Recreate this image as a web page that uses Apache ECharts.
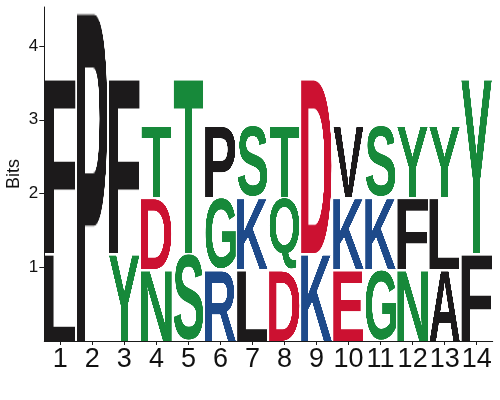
<!DOCTYPE html>
<html>
<head>
<meta charset="utf-8">
<script src="https://cdn.jsdelivr.net/npm/echarts@6/dist/echarts.min.js"></script>
<style>
html,body{margin:0;padding:0;background:#fff;}
#chart{width:500px;height:400px;}
</style>
</head>
<body>
<div id="chart"></div>
<script>
// Positions (x categories)
const positions = ['1','2','3','4','5','6','7','8','9','10','11','12','13','14'];
// Letters at each position, bottom to top
const letters = [
  ['L','F'], ['P'], ['Y','F'], ['N','D','T'], ['S','T'],
  ['R','G','P'], ['L','K','S'], ['D','Q','T'], ['K','D'],
  ['E','K','V'], ['G','K','S'], ['N','F','Y'], ['A','L','Y'], ['F','Y']
];
// Letter heights in bits, bottom to top
const heights = [
  [1.19, 2.40], [4.53], [1.19, 2.40], [0.97, 0.98, 0.98], [1.19, 2.40],
  [0.97, 0.98, 0.98], [0.97, 0.98, 0.98], [0.97, 0.98, 0.98], [1.19, 2.40],
  [0.97, 0.98, 0.98], [0.97, 0.98, 0.98], [0.97, 0.98, 0.98], [0.97, 0.98, 0.98], [1.19, 2.40]
];
const yTicks = [1, 2, 3, 4];
const yMax = 4.53;

const colorOf = {
  F:'#1c1a1b', P:'#1c1a1b', L:'#1c1a1b', V:'#1c1a1b', A:'#1c1a1b',
  Y:'#17893a', N:'#17893a', S:'#17893a', T:'#17893a', G:'#17893a', Q:'#17893a',
  D:'#cc1131', E:'#cc1131',
  K:'#1e4a8a', R:'#1e4a8a'
};

const glyphCache = {};
function glyph(ch) {
  if (glyphCache[ch]) return glyphCache[ch];
  const font = 'bold 300px "Liberation Sans", Arial, sans-serif';
  const c = document.createElement('canvas');
  let ctx = c.getContext('2d');
  ctx.font = font;
  const m = ctx.measureText(ch);
  const w = Math.ceil(m.actualBoundingBoxLeft + m.actualBoundingBoxRight);
  const h = Math.ceil(m.actualBoundingBoxAscent + m.actualBoundingBoxDescent);
  c.width = w; c.height = h;
  ctx = c.getContext('2d');
  ctx.font = font;
  ctx.fillStyle = colorOf[ch];
  ctx.textBaseline = 'alphabetic';
  ctx.textAlign = 'left';
  ctx.fillText(ch, m.actualBoundingBoxLeft, m.actualBoundingBoxAscent);
  glyphCache[ch] = c;
  return c;
}

// Build stacked items
const items = [];
letters.forEach((col, i) => {
  let base = 0;
  col.forEach((ch, j) => {
    const h = heights[i][j];
    items.push({ i: i, y0: base, y1: base + h, ch: ch });
    base += h;
  });
});

const FONT = '"Liberation Sans", Arial, sans-serif';
const chart = echarts.init(document.getElementById('chart'), null, { renderer: 'canvas' });
chart.setOption({
  animation: false,
  grid: { left: 44.3, right: 7.3, top: 7, bottom: 59, containLabel: false, outerBoundsMode: 'none' },
  xAxis: {
    type: 'category',
    data: positions,
    boundaryGap: true,
    axisLine: { show: true, lineStyle: { color: '#1a1a1a', width: 1 } },
    axisTick: { show: true, alignWithLabel: true, length: 4, lineStyle: { color: '#1a1a1a' } },
    axisLabel: { fontSize: 27, color: '#111', margin: 5, fontFamily: FONT, interval: 0, hideOverlap: false },
    splitLine: { show: false }
  },
  yAxis: {
    type: 'value',
    min: 0, max: yMax,
    name: 'Bits',
    nameLocation: 'middle',
    nameGap: 21,
    nameRotate: 90,
    nameMoveOverlap: false,
    nameTextStyle: { fontSize: 18, color: '#111', fontFamily: FONT },
    axisLine: { show: true, lineStyle: { color: '#1a1a1a', width: 1 } },
    axisTick: { show: true, length: 5, customValues: yTicks, lineStyle: { color: '#1a1a1a' } },
    axisLabel: { fontSize: 17, color: '#111', margin: 6, customValues: yTicks, fontFamily: FONT },
    splitLine: { show: false }
  },
  series: [{
    type: 'custom',
    clip: false,
    data: items.map(d => [d.i, d.y0, d.y1]),
    encode: { x: 0, y: [1, 2] },
    renderItem: function (params, api) {
      const d = items[params.dataIndex];
      const p0 = api.coord([d.i, d.y0]);
      const p1 = api.coord([d.i, d.y1]);
      const bw = api.size([1, 0])[0] * 0.96;
      return {
        type: 'image',
        style: {
          image: glyph(d.ch),
          x: p0[0] - bw / 2,
          y: p1[1] + 0.5,
          width: bw,
          height: Math.max(0, p0[1] - p1[1] - 1)
        }
      };
    }
  }]
});
</script>
</body>
</html>
